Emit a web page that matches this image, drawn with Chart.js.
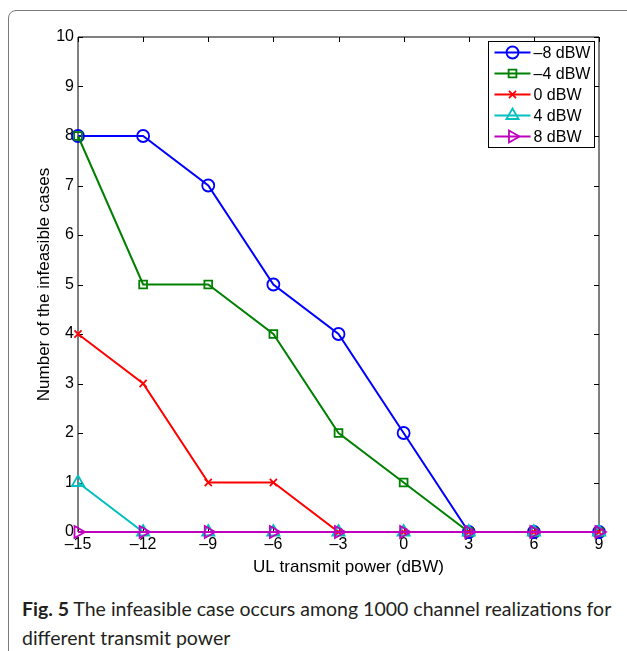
<!DOCTYPE html>
<html>
<head>
<meta charset="utf-8">
<script src="https://cdn.jsdelivr.net/npm/chart.js@4.4.1/dist/chart.umd.min.js"></script>
<style>
html, body { margin: 0; padding: 0; background: #fff; }
body { width: 627px; height: 651px; position: relative; overflow: hidden; }
#frame { position: absolute; left: 8px; top: 10px; width: 700px; height: 700px;
  border: 1px solid #7a7a7a; border-top-left-radius: 8px; }
#wrap { position: absolute; left: 0; top: 0; width: 627px; height: 580px; }
#caption { position: absolute; left: 22px; top: 594px; width: 600px;
  font-family: Lato, "Open Sans", sans-serif; font-size: 19.5px; line-height: 29px; color: #231f20; }
</style>
</head>
<body>
<div id="frame"></div>
<div id="wrap"><canvas id="c"></canvas></div>
<div id="caption"><b>Fig. 5</b> The infeasible case occurs among 1000 channel realizations for different transmit power</div>
<script>
const xValues = [-15, -12, -9, -6, -3, 0, 3, 6, 9];
const seriesNames = ['\u20138 dBW', '\u20134 dBW', '0 dBW', '4 dBW', '8 dBW'];
const minus8 = [8, 8, 7, 5, 4, 2, 0, 0, 0];
const minus4 = [8, 5, 5, 4, 2, 1, 0, 0, 0];
const zero = [4, 3, 1, 1, 0, 0, 0, 0, 0];
const plus4 = [1, 0, 0, 0, 0, 0, 0, 0, 0];
const plus8 = [0, 0, 0, 0, 0, 0, 0, 0, 0];
const xTitle = 'UL transmit power (dBW)';
const yTitle = 'Number of the infeasible cases';

const FONT = '"Liberation Sans", Arial, sans-serif';
const minus = (v) => String(v).replace('-', '\u2013');

const styles = [
    { color: '#0000ff', pointStyle: 'circle', radius: 6, rotation: 0 },
    { color: '#008000', pointStyle: 'rect', radius: 5.5, rotation: 0 },
    { color: '#ff0000', pointStyle: 'crossRot', radius: 5, rotation: 0 },
    { color: '#00bfbf', pointStyle: 'triangle', radius: 7, rotation: 0 },
    { color: '#bf00bf', pointStyle: 'triangle', radius: 7, rotation: 90 },
];
const series = [minus8, minus4, zero, plus4, plus8];

const datasets = series.map((vals, i) => ({
    label: seriesNames[i],
    data: xValues.map((x, j) => ({ x, y: vals[j] })),
    borderColor: styles[i].color,
    backgroundColor: 'rgba(0,0,0,0)',
    borderWidth: 2,
    pointStyle: styles[i].pointStyle,
    pointRadius: styles[i].radius,
    pointRotation: styles[i].rotation,
    pointBorderWidth: 1.8,
    pointBorderColor: styles[i].color,
    pointBackgroundColor: 'rgba(0,0,0,0)',
    tension: 0,
    clip: false,
    order: 4 - i,
}));

// box, inner tick marks, x label and legend, the way matlab draws them
const matlabFrame = {
    id: 'matlabFrame',
    beforeDatasetsDraw(chart) {
        const { ctx, chartArea: a, scales } = chart;
        ctx.save();
        ctx.strokeStyle = '#000';
        ctx.lineWidth = 1;
        ctx.beginPath();
        ctx.rect(a.left, a.top, a.right - a.left, a.bottom - a.top);
        const tl = 5;
        scales.x.ticks.forEach((t) => {
            const px = Math.round(scales.x.getPixelForValue(t.value)) + 0.5;
            ctx.moveTo(px, a.bottom); ctx.lineTo(px, a.bottom - tl);
            ctx.moveTo(px, a.top); ctx.lineTo(px, a.top + tl);
        });
        scales.y.ticks.forEach((t) => {
            const py = Math.round(scales.y.getPixelForValue(t.value)) + 0.5;
            ctx.moveTo(a.left, py); ctx.lineTo(a.left + tl, py);
            ctx.moveTo(a.right, py); ctx.lineTo(a.right - tl, py);
        });
        ctx.stroke();
        // matlab puts the x label a little right of the axis centre
        ctx.fillStyle = '#000';
        ctx.font = '17px ' + FONT;
        ctx.textAlign = 'center';
        ctx.textBaseline = 'middle';
        ctx.fillText(xTitle, (a.left + a.right) / 2 + 10, 567);
        ctx.restore();
    },
    afterDraw(chart) {
        const { ctx } = chart;
        const bx = 488.5, by = 41.5, bw = 106, bh = 106, step = 21;
        ctx.save();
        ctx.fillStyle = '#fff';
        ctx.fillRect(bx, by, bw, bh);
        ctx.strokeStyle = '#000';
        ctx.lineWidth = 1;
        ctx.strokeRect(bx, by, bw, bh);
        ctx.font = '16px ' + FONT;
        ctx.textBaseline = 'middle';
        chart.data.datasets.forEach((ds, i) => {
            const y = by + 11 + i * step;
            ctx.strokeStyle = ds.borderColor;
            ctx.lineWidth = 2;
            ctx.beginPath();
            ctx.moveTo(bx + 6, y); ctx.lineTo(bx + 42, y);
            ctx.stroke();
            ctx.fillStyle = 'rgba(0,0,0,0)';
            ctx.lineWidth = 1.8;
            Chart.helpers.drawPoint(ctx, {
                pointStyle: ds.pointStyle, rotation: ds.pointRotation,
                radius: ds.pointRadius, borderWidth: 1.8,
            }, bx + 24, y);
            ctx.fillStyle = '#000';
            ctx.fillText(ds.label, bx + 45, y + 1);
        });
        ctx.restore();
    },
};

new Chart(document.getElementById('c'), {
    type: 'line',
    data: { datasets },
    options: {
        responsive: true,
        maintainAspectRatio: false,
        animation: false,
        layout: { padding: { left: 0, right: 28, top: 37, bottom: 0 } },
        plugins: { legend: { display: false }, tooltip: { enabled: false } },
        scales: {
            x: {
                type: 'linear', min: -15, max: 9,
                grid: { display: false, drawTicks: false },
                border: { display: false },
                ticks: { stepSize: 3, padding: 3, color: '#000', font: { family: FONT, size: 16 },
                    callback: (v) => minus(v) },
                afterFit: (s) => { s.height = 48; },
            },
            y: {
                type: 'linear', min: 0, max: 10,
                grid: { display: false, drawTicks: false },
                border: { display: false },
                ticks: { stepSize: 1, padding: 4, color: '#000', font: { family: FONT, size: 16 } },
                title: { display: true, text: yTitle, color: '#000',
                    font: { family: FONT, size: 17 }, padding: { top: 34, bottom: 0 } },
                afterFit: (s) => { s.width = 78; },
            },
        },
    },
    plugins: [matlabFrame],
});
</script>
</body>
</html>
